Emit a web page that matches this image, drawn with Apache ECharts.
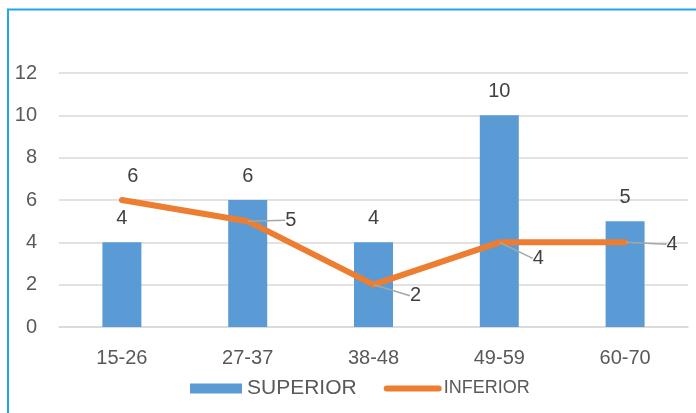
<!DOCTYPE html>
<html>
<head>
<meta charset="utf-8">
<script src="https://cdn.jsdelivr.net/npm/echarts@6/dist/echarts.min.js"></script>
<style>
  html, body { margin: 0; padding: 0; background: #fff; }
  #chart { width: 696px; height: 413px; }
</style>
</head>
<body>
<div id="chart"></div>
<script>
// Age bands on the category axis
const categories = ['15-26', '27-37', '38-48', '49-59', '60-70'];
// Counts per band
const superiorValues = [4, 6, 4, 10, 5];
const inferiorValues = [6, 5, 2, 4, 4];
// Value axis ticks
const yTicks = [0, 2, 4, 6, 8, 10, 12];

// Where each INFERIOR label sits relative to its point (pixels)
const inferiorLabelOffsets = [[11, -24], [43, -1], [42, 11], [39, 16], [47, 2]];

const chart = echarts.init(document.getElementById('chart'), null, { renderer: 'canvas' });

const FONT = '"Liberation Sans", Arial, sans-serif';
const TEXT = '#595959';

chart.setOption({
  animation: false,
  backgroundColor: '#ffffff',
  textStyle: { fontFamily: FONT },
  grid: { left: 59, right: 8, top: 73, bottom: 86, containLabel: false },
  legend: {
    left: 185,
    top: 373,
    itemWidth: 52,
    itemHeight: 10,
    itemGap: 27,
    textStyle: { color: TEXT, fontFamily: FONT },
    data: [
      { name: 'SUPERIOR', icon: 'rect', textStyle: { fontSize: 21 } },
      { name: 'INFERIOR', textStyle: { fontSize: 18 }, itemStyle: { opacity: 0 } }
    ],
    lineStyle: { width: 6, cap: 'round' }
  },
  xAxis: {
    type: 'category',
    data: categories,
    axisLine: { show: true, lineStyle: { color: '#d9d9d9', width: 1.5 } },
    axisTick: { show: false },
    axisLabel: { color: TEXT, fontSize: 20, margin: 21, fontFamily: FONT }
  },
  yAxis: {
    type: 'value',
    min: yTicks[0],
    max: yTicks[yTicks.length - 1],
    interval: yTicks[1] - yTicks[0],
    axisLine: { show: false },
    axisTick: { show: false },
    splitLine: { lineStyle: { color: '#d9d9d9', width: 1.5 } },
    axisLabel: { color: TEXT, fontSize: 20, margin: 22, fontFamily: FONT }
  },
  series: [
    {
      name: 'SUPERIOR',
      type: 'bar',
      data: superiorValues,
      barWidth: 39,
      itemStyle: { color: '#5b9bd5' },
      label: {
        show: true,
        position: 'top',
        distance: 14,
        color: '#404040',
        fontSize: 20,
        fontFamily: FONT
      }
    },
    {
      name: 'INFERIOR',
      type: 'line',
      data: inferiorValues.map((v, i) => ({
        value: v,
        labelLine: { show: i > 0 }
      })),
      symbol: 'circle',
      symbolSize: 1,
      showSymbol: true,
      lineStyle: { color: '#ed7d31', width: 6, cap: 'round', join: 'round' },
      itemStyle: { color: '#ed7d31' },
      z: 3,
      label: {
        show: true,
        position: 'inside',
        align: 'center',
        verticalAlign: 'middle',
        color: '#404040',
        fontSize: 20,
        fontFamily: FONT
      },
      labelLine: {
        show: true,
        lineStyle: { color: '#a6a6a6', width: 1.5 }
      },
      labelLayout: function (params) {
        const o = inferiorLabelOffsets[params.dataIndex];
        return { dx: o[0], dy: o[1] };
      }
    }
  ],
  graphic: [
    {
      type: 'polyline',
      silent: true,
      shape: { points: [[8, 413], [8, 9.5], [696, 9.5]] },
      style: { stroke: '#1fa6ee', lineWidth: 2, fill: null }
    }
  ]
});
</script>
</body>
</html>
